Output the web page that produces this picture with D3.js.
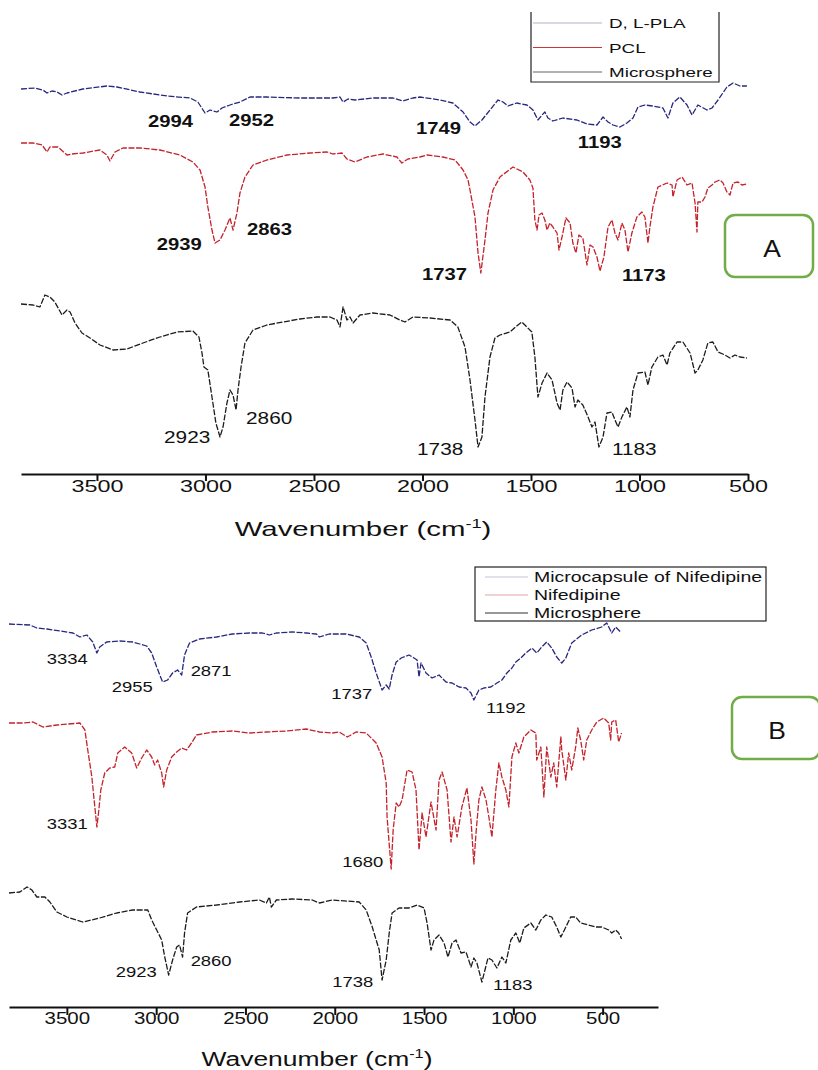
<!DOCTYPE html>
<html>
<head>
<meta charset="utf-8">
<script src="https://cdn.jsdelivr.net/npm/d3@7"></script>
<style>
  body { margin: 0; background: #fff; }
  svg { display: block; }
  text { font-family: "Liberation Sans", Arial, sans-serif; fill: #111; }
</style>
</head>
<body>
<svg width="818" height="1070"></svg>
<script>
// ---- panel A spectra : [wavenumber (cm-1), transmittance (a.u.)]
var plaA = [[3850,77.0],[3786,77.2],[3749,76.8],[3730,76.2],[3707,76.6],[3684,76.4],[3661,75.8],[3638,76.2],[3565,77.0],[3454,77.6],[3408,77.4],[3302,76.4],[3177,75.6],[3071,75.2],[3035,74.4],[3002,72.2],[2979,72.8],[2947,72.4],[2924,73.2],[2887,73.8],[2841,74.4],[2795,75.4],[2717,75.4],[2565,75.2],[2413,75.2],[2380,75.4],[2366,74.4],[2343,75.0],[2311,74.8],[2228,75.2],[2136,75.2],[2090,74.6],[2044,75.2],[2012,75.4],[1919,74.8],[1860,74.2],[1813,72.4],[1781,70.4],[1758,69.6],[1726,70.8],[1689,72.8],[1652,74.8],[1629,74.4],[1606,73.6],[1565,74.2],[1519,73.8],[1491,72.8],[1468,70.8],[1449,71.8],[1436,72.4],[1422,71.2],[1399,70.6],[1353,71.2],[1288,70.8],[1242,70.0],[1196,69.8],[1168,71.4],[1145,70.4],[1122,69.8],[1090,69.4],[1058,70.2],[1030,71.2],[1007,73.4],[975,73.8],[938,73.6],[892,73.2],[869,71.2],[846,74.2],[814,75.4],[781,73.8],[758,71.8],[731,73.8],[689,72.8],[666,73.2],[638,74.8],[597,77.4],[569,78.2],[537,77.6],[505,77.6]];

var pclA = [[3850,66.2],[3795,66.2],[3753,65.8],[3730,64.4],[3717,65.4],[3680,65.4],[3638,63.8],[3615,64.0],[3565,64.2],[3486,64.8],[3454,63.8],[3440,62.6],[3417,64.4],[3380,65.2],[3302,65.2],[3210,64.8],[3118,63.8],[3058,62.4],[3025,60.8],[3002,57.4],[2989,53.4],[2970,48.8],[2956,46.2],[2933,46.8],[2910,48.8],[2887,51.2],[2873,48.8],[2855,52.2],[2841,56.2],[2818,59.4],[2781,61.8],[2717,62.8],[2624,63.8],[2519,64.2],[2440,64.4],[2413,64.0],[2371,64.2],[2348,63.0],[2311,62.4],[2256,63.4],[2182,64.0],[2118,63.4],[2095,62.2],[2067,63.0],[2012,63.4],[1979,63.8],[1906,63.4],[1850,62.8],[1813,60.8],[1790,58.8],[1781,56.8],[1758,51.4],[1744,44.2],[1731,40.2],[1712,46.8],[1698,52.2],[1675,56.8],[1643,59.4],[1583,61.4],[1537,60.4],[1505,58.8],[1491,57.2],[1482,50.8],[1472,48.8],[1463,51.8],[1449,52.2],[1436,50.8],[1426,48.8],[1413,50.2],[1399,49.4],[1380,48.2],[1371,44.8],[1357,47.4],[1339,51.2],[1320,50.2],[1307,46.2],[1293,44.2],[1279,47.8],[1261,47.2],[1242,41.8],[1228,45.8],[1214,45.4],[1196,43.4],[1182,40.6],[1164,43.4],[1145,49.4],[1127,50.8],[1113,48.2],[1099,46.8],[1081,50.2],[1067,48.8],[1053,44.4],[1035,48.2],[1012,51.4],[989,52.4],[975,51.4],[961,46.2],[952,49.4],[938,53.4],[915,57.4],[873,58.2],[850,57.8],[846,55.4],[827,58.8],[804,59.4],[781,57.8],[758,58.2],[744,54.2],[735,48.4],[731,54.4],[712,54.4],[698,55.4],[685,57.2],[666,57.8],[652,58.4],[629,58.8],[615,58.2],[597,56.4],[583,55.8],[569,58.2],[546,58.4],[528,57.8],[505,58.0]];

var microA = [[3850,34.0],[3795,33.8],[3763,33.4],[3740,35.8],[3717,35.4],[3694,34.4],[3661,31.8],[3638,32.8],[3624,32.4],[3601,30.2],[3569,28.2],[3532,27.2],[3486,25.8],[3426,24.8],[3362,25.0],[3288,26.2],[3210,27.4],[3131,28.4],[3058,28.6],[3030,27.4],[3016,24.2],[3007,21.4],[2989,20.8],[2970,15.4],[2952,10.2],[2933,7.4],[2919,9.4],[2901,14.2],[2887,16.8],[2873,15.8],[2859,12.8],[2850,16.8],[2836,21.4],[2818,26.2],[2781,28.8],[2717,29.8],[2643,30.4],[2565,31.0],[2486,31.4],[2426,31.4],[2394,30.8],[2380,29.4],[2366,33.4],[2348,30.8],[2334,31.4],[2320,30.2],[2288,31.8],[2228,32.2],[2150,31.8],[2104,30.8],[2081,30.4],[2044,31.4],[1966,31.2],[1873,30.8],[1837,29.4],[1804,25.4],[1781,18.8],[1758,10.8],[1744,5.4],[1726,7.4],[1712,15.4],[1689,23.4],[1666,27.2],[1643,27.8],[1597,28.4],[1560,29.8],[1542,30.4],[1519,29.4],[1496,28.4],[1482,23.4],[1468,15.4],[1449,18.2],[1426,20.2],[1403,18.8],[1380,14.2],[1366,12.8],[1353,16.8],[1334,18.4],[1311,17.2],[1297,13.4],[1284,14.8],[1261,13.8],[1237,11.4],[1219,9.4],[1205,10.4],[1187,5.4],[1168,7.4],[1150,12.2],[1127,12.4],[1113,10.8],[1099,9.4],[1081,11.4],[1058,13.4],[1044,11.4],[1030,16.8],[1007,20.2],[975,20.4],[961,17.8],[943,21.4],[915,23.4],[892,23.8],[873,21.8],[860,24.2],[827,26.4],[800,26.4],[767,24.2],[744,20.2],[731,20.8],[708,22.8],[685,26.2],[662,26.4],[638,24.4],[606,23.8],[583,23.2],[560,23.8],[537,23.4],[505,23.2]];

// ---- panel B spectra
var capsuleB = [[3824,76.6],[3707,76.4],[3668,75.8],[3612,75.6],[3539,75.2],[3466,74.8],[3427,74.0],[3388,74.4],[3355,73.0],[3332,70.8],[3316,72.0],[3277,73.0],[3204,73.2],[3131,73.0],[3092,72.6],[3053,72.2],[3025,70.8],[2997,68.0],[2964,65.0],[2936,65.4],[2908,66.8],[2880,67.4],[2857,66.4],[2841,70.4],[2813,72.8],[2757,73.6],[2662,74.0],[2573,74.6],[2478,74.8],[2405,74.8],[2366,74.4],[2327,74.8],[2237,75.0],[2159,74.8],[2103,74.6],[2086,74.0],[2031,74.6],[1936,74.6],[1863,74.0],[1824,72.8],[1796,70.0],[1768,66.8],[1735,63.4],[1712,64.4],[1695,63.6],[1679,66.4],[1656,69.0],[1628,69.8],[1584,70.4],[1556,69.8],[1539,69.4],[1528,66.0],[1517,68.8],[1489,66.8],[1455,65.8],[1416,66.4],[1377,65.0],[1343,64.8],[1304,64.0],[1265,63.8],[1237,62.8],[1221,61.4],[1193,63.4],[1165,63.8],[1126,64.0],[1092,64.8],[1064,65.4],[1036,66.8],[1008,67.8],[986,69.0],[958,69.8],[930,70.8],[896,71.8],[869,70.8],[841,72.0],[813,73.0],[785,71.8],[757,70.0],[729,68.8],[706,69.8],[673,72.8],[617,74.4],[561,75.4],[505,76.0],[477,76.8],[449,74.8],[427,76.0],[399,75.0]];

var nifedipineB = [[3824,56.8],[3746,56.8],[3690,57.0],[3634,56.0],[3556,56.4],[3427,56.8],[3399,55.4],[3383,51.4],[3360,46.0],[3349,42.0],[3332,36.0],[3321,39.4],[3310,43.4],[3288,46.8],[3260,47.8],[3232,48.0],[3215,50.8],[3176,52.0],[3137,50.8],[3109,47.8],[3081,49.8],[3053,51.4],[3025,50.0],[3008,48.4],[2992,49.4],[2969,46.8],[2958,44.0],[2941,47.4],[2913,50.0],[2885,51.0],[2857,51.8],[2830,51.4],[2802,52.8],[2774,54.4],[2684,55.0],[2573,55.2],[2478,54.8],[2383,55.0],[2271,55.2],[2159,55.6],[2086,55.0],[2014,54.8],[1975,55.0],[1930,54.0],[1880,55.0],[1824,54.8],[1768,52.8],[1735,50.0],[1712,44.8],[1707,38.0],[1684,27.6],[1673,35.4],[1656,40.8],[1640,40.0],[1623,41.4],[1595,47.4],[1567,47.0],[1545,43.4],[1528,31.4],[1511,38.8],[1489,34.0],[1461,41.0],[1433,35.4],[1416,45.4],[1399,47.0],[1371,43.4],[1349,33.0],[1332,38.0],[1315,34.0],[1288,40.0],[1260,43.8],[1237,37.4],[1221,28.6],[1209,34.8],[1193,41.4],[1176,44.0],[1153,41.4],[1137,38.0],[1120,34.0],[1098,43.4],[1081,48.8],[1064,46.0],[1042,43.4],[1025,40.0],[1008,50.0],[986,52.8],[969,50.8],[941,54.0],[902,55.4],[874,54.8],[869,49.4],[846,52.0],[829,42.0],[813,52.0],[790,46.0],[774,48.8],[757,44.0],[734,54.0],[729,51.4],[706,45.4],[690,50.8],[673,47.4],[651,52.0],[639,55.8],[623,53.4],[606,49.4],[589,53.4],[561,55.4],[533,57.0],[494,57.8],[466,56.8],[455,53.4],[449,57.0],[427,57.4],[410,53.0],[394,54.8]];

var microB = [[3824,22.8],[3763,23.0],[3723,24.0],[3696,23.4],[3668,22.0],[3640,22.0],[3623,22.0],[3595,21.0],[3556,19.0],[3500,18.0],[3411,17.0],[3316,17.8],[3221,18.8],[3131,19.4],[3047,19.4],[3025,17.4],[2997,15.4],[2969,13.4],[2952,10.0],[2930,6.4],[2908,9.4],[2885,12.0],[2869,12.4],[2852,10.0],[2841,14.8],[2824,18.8],[2774,20.0],[2662,20.4],[2533,21.0],[2422,21.4],[2383,20.8],[2366,22.0],[2355,20.0],[2327,21.4],[2237,21.6],[2126,21.4],[2086,20.8],[2014,21.4],[1863,21.0],[1824,19.4],[1790,16.0],[1751,11.4],[1735,5.4],[1712,9.4],[1695,14.8],[1679,18.8],[1640,19.8],[1584,19.8],[1539,20.4],[1500,19.8],[1483,16.8],[1461,11.4],[1444,13.4],[1416,14.4],[1388,12.8],[1366,10.0],[1343,12.8],[1321,13.4],[1293,10.8],[1265,11.0],[1237,8.0],[1221,9.8],[1204,8.8],[1176,5.0],[1159,7.4],[1142,9.8],[1120,9.4],[1092,7.8],[1064,10.0],[1042,8.8],[1014,13.4],[986,14.8],[964,12.8],[941,15.8],[902,16.8],[874,15.4],[846,17.4],[818,18.4],[785,18.0],[757,16.0],[734,14.0],[706,16.0],[679,18.0],[651,18.0],[623,16.8],[578,16.4],[539,16.0],[505,16.0],[466,15.4],[449,14.8],[427,15.4],[410,14.8],[394,13.6]];

// ---- ticks, legends, peak labels
var majorTicks = [3500, 3000, 2500, 2000, 1500, 1000, 500];
var minorTicksA = [3750, 3250, 2750, 2250, 1750, 1250, 750];
var minorTicksB = [3750, 3250, 2750, 2250, 1750, 1250, 750, 250];
var legendA = ["D, L-PLA", "PCL", "Microsphere"];
var legendB = ["Microcapsule of Nifedipine", "Nifedipine", "Microsphere"];
// label text, wavenumber and transmittance of its left baseline point
var peaksA = [["2994",3265,69.4],["2952",2892,69.6],["1749",2030,68.0],["1193",1284,65.2],
              ["2939",3224,44.8],["2863",2809,47.8],["1737",2002,38.8],["1173",1081,38.6]];
var peaksA2 = [["2923",3191,6.2],["2860",2813,10.0],["1738",2025,3.8],["1183",1127,3.8]];
var peaksB = [["3334",3612,68.6],["2955",3249,63.0],["2871",2807,66.2],["1737",2019,61.6],["1192",1153,58.8],
              ["3331",3612,35.6],["1680",1958,28.0],
              ["2923",3226,6.0],["2860",2807,8.2],["1738",2014,4.0],["1183",1114,3.4]];

var svg = d3.select("svg");

var colBlue = "#27277e", colRed = "#c5222b", colBlack = "#1c1c1c";

// helper : text squeezed/stretched horizontally like the original picture
function label(g, txt, x, y, size, k, opts) {
  opts = opts || {};
  var t = g.append("text")
      .attr("transform", "translate(" + x + "," + y + ") scale(" + k + ",1)")
      .attr("font-size", size)
      .attr("text-anchor", opts.anchor || "start")
      .attr("font-weight", opts.weight || "normal")
      .text(txt);
  return t;
}

function panel(cfg) {
  var x = d3.scaleLinear().domain(cfg.xDomain).range(cfg.xRange);
  var y = d3.scaleLinear().domain([0, 90]).range([cfg.axisY, cfg.axisY - 450]);
  var g = svg.append("g");

  var line = d3.line().x(function(d) { return x(d[0]); }).y(function(d) { return y(d[1]); });

  cfg.series.forEach(function(s) {
    g.append("path")
        .datum(s.data)
        .attr("fill", "none")
        .attr("stroke", s.color)
        .attr("stroke-width", 1.3)
        .attr("stroke-dasharray", "6,1.6")
        .attr("stroke-linejoin", "round")
        .attr("d", line);
  });

  // x axis
  var ax = g.append("g").attr("transform", "translate(0," + cfg.axisY + ")");
  ax.call(d3.axisBottom(x).tickValues(cfg.minor).tickSize(4).tickSizeOuter(0).tickFormat(""));
  ax.call(d3.axisBottom(x).tickValues(majorTicks).tickSize(cfg.tickLen).tickSizeOuter(0).tickFormat(d3.format("d")));
  ax.select(".domain").attr("stroke-width", 2.2).attr("stroke", "#111");
  ax.selectAll(".tick line").attr("stroke-width", 2).attr("stroke", "#111");
  ax.selectAll(".tick text")
      .attr("y", 0).attr("dy", null)
      .attr("font-size", 16)
      .attr("font-family", "Liberation Sans, Arial, sans-serif")
      .attr("fill", "#111")
      .attr("transform", "translate(0," + cfg.tickTextDy + ") scale(" + cfg.tickK + ",1)");

  // axis title with superscript
  var title = g.append("text")
      .attr("transform", "translate(" + cfg.titleX + "," + cfg.titleY + ") scale(" + cfg.titleK + ",1)")
      .attr("font-size", 21)
      .attr("text-anchor", "middle");
  title.append("tspan").text("Wavenumber (cm");
  title.append("tspan").attr("font-size", 13).attr("dy", -8).text("-1");
  title.append("tspan").attr("dy", 8).text(")");

  // peak labels
  cfg.peaks.forEach(function(p) {
    label(g, p.txt[0], x(p.txt[1]), y(p.txt[2]), p.size, p.k, { weight: p.weight });
  });

  return g;
}

function peakSet(arr, size, k, weight) {
  return arr.map(function(a) { return { txt: a, size: size, k: k, weight: weight }; });
}

panel({
  xDomain: [3850, 500], xRange: [21, 748], axisY: 474, tickLen: 7,
  minor: minorTicksA, tickTextDy: 18, tickK: 1.46,
  titleX: 363, titleY: 536, titleK: 1.4,
  series: [{ data: plaA, color: colBlue }, { data: pclA, color: colRed }, { data: microA, color: colBlack }],
  peaks: peakSet(peaksA, 17, 1.19, "bold").concat(peakSet(peaksA2, 16, 1.3, "normal"))
});

panel({
  xDomain: [3824, 190], xRange: [9, 658], axisY: 1007, tickLen: 8,
  minor: minorTicksB, tickTextDy: 17, tickK: 1.28,
  titleX: 317, titleY: 1066, titleK: 1.26,
  series: [{ data: capsuleB, color: colBlue }, { data: nifedipineB, color: colRed }, { data: microB, color: colBlack }],
  peaks: peakSet(peaksB, 15.5, 1.19, "normal")
});

// ---- legends
var legA = svg.append("g");
legA.append("path")
    .attr("d", "M531,12 V82 H719 V12")
    .attr("fill", "none").attr("stroke", "#222").attr("stroke-width", 1.2);
var legColA = ["#b4b4c4", "#c8353a", "#666"];
legendA.forEach(function(name, i) {
  var yy = 23 + i * 24.5;
  legA.append("line").attr("x1", 533).attr("x2", 602).attr("y1", yy).attr("y2", yy)
      .attr("stroke", legColA[i]).attr("stroke-width", 1.2);
  label(legA, name, 609, yy + 5, 13, 1.45);
});

var legB = svg.append("g");
legB.append("rect")
    .attr("x", 475).attr("y", 567).attr("width", 291).attr("height", 54)
    .attr("fill", "#fff").attr("stroke", "#222").attr("stroke-width", 1.2);
var legColB = ["#c4c4d8", "#e6a4a4", "#333"];
legendB.forEach(function(name, i) {
  var yy = 577 + i * 18;
  legB.append("line").attr("x1", 485).attr("x2", 528).attr("y1", yy).attr("y2", yy)
      .attr("stroke", legColB[i]).attr("stroke-width", 1.1);
  label(legB, name, 534, yy + 5, 14, 1.39);
});

// ---- panel tags
[["A", 725, 215, 772, 257], ["B", 732, 697, 777, 739]].forEach(function(t) {
  svg.append("rect")
      .attr("x", t[1]).attr("y", t[2]).attr("width", 88).attr("height", 62).attr("rx", 10)
      .attr("fill", "#fff").attr("stroke", "#70ad47").attr("stroke-width", 2.5);
  label(svg, t[0], t[3], t[4], 24, 1.1, { anchor: "middle" });
});
</script>
</body>
</html>
